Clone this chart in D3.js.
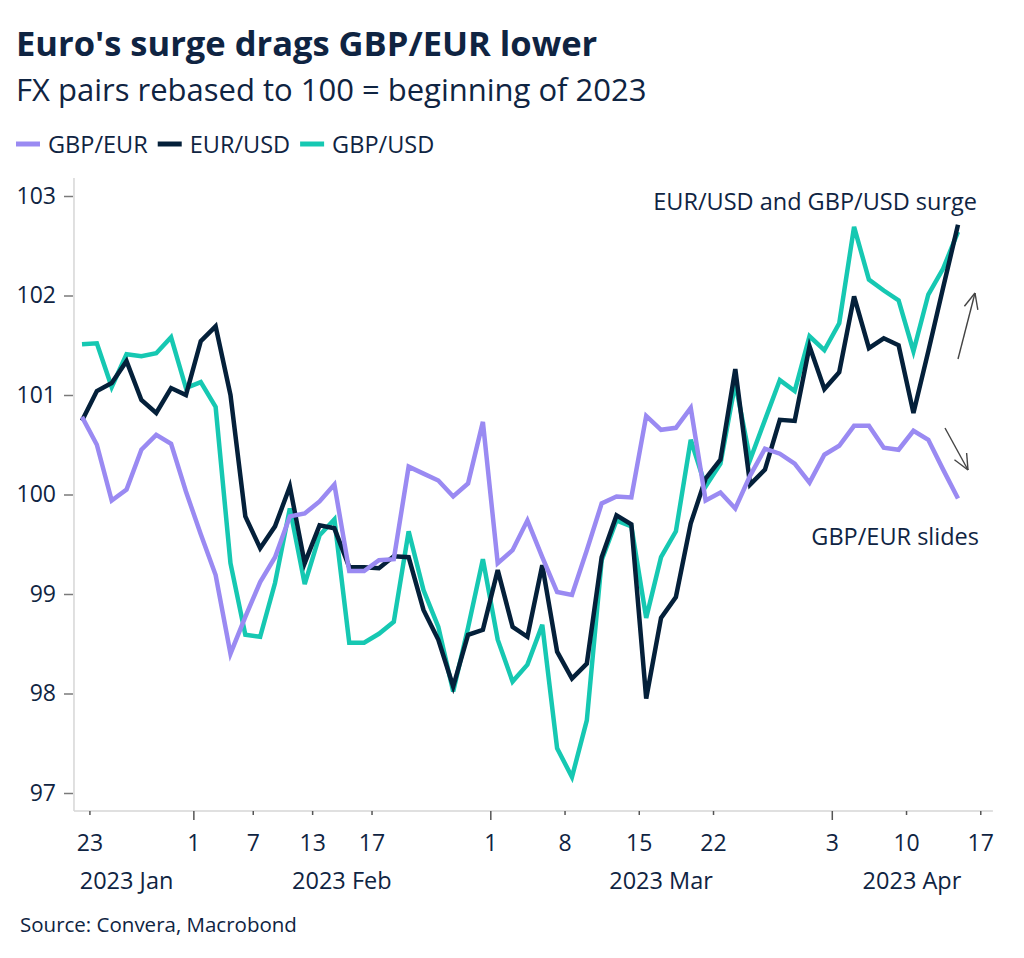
<!DOCTYPE html>
<html>
<head>
<meta charset="utf-8">
<script src="https://cdn.jsdelivr.net/npm/d3@7"></script>
<style>
  html, body { margin: 0; padding: 0; background: #ffffff; }
  svg { display: block; }
  text { font-family: "Open Sans", "Noto Sans", sans-serif; fill: #0f2442; }
</style>
</head>
<body>
<svg id="chart" width="1024" height="958"></svg>
<script>
// ---------- data ----------
const seriesNames = ["GBP/EUR", "EUR/USD", "GBP/USD"];
const seriesColors = ["#9a8af2", "#04203a", "#16c8b2"];

const gbpEur = [100.78, 100.50, 99.94, 100.05, 100.45, 100.60, 100.51, 100.03, 99.60, 99.19,
  98.40, 98.77, 99.12, 99.37, 99.78, 99.81, 99.93, 100.10, 99.23, 99.23,
  99.34, 99.35, 100.28, 100.21, 100.14, 99.98, 100.11, 100.73, 99.31, 99.44,
  99.74, 99.37, 99.02, 98.99, 99.44, 99.91, 99.98, 99.97, 100.79, 100.65,
  100.67, 100.87, 99.94, 100.02, 99.86, 100.19, 100.46, 100.41, 100.31, 100.12,
  100.40, 100.49, 100.69, 100.69, 100.47, 100.45, 100.64, 100.55, 100.25, 99.96];

const eurUsd = [100.74, 101.04, 101.12, 101.34, 100.95, 100.82, 101.07, 101.00, 101.54, 101.69,
  101.00, 99.78, 99.46, 99.68, 100.08, 99.31, 99.69, 99.66, 99.27, 99.27,
  99.26, 99.38, 99.37, 98.84, 98.54, 98.07, 98.59, 98.64, 99.24, 98.67,
  98.57, 99.29, 98.42, 98.15, 98.30, 99.37, 99.79, 99.70, 97.95, 98.76,
  98.97, 99.71, 100.16, 100.35, 101.26, 100.10, 100.25, 100.75, 100.74, 101.49,
  101.06, 101.23, 101.99, 101.47, 101.57, 101.50, 100.82, 101.44, 102.08, 102.71];

const gbpUsd = [101.51, 101.52, 101.08, 101.41, 101.39, 101.42, 101.58, 101.07, 101.13, 100.88,
  99.31, 98.59, 98.57, 99.11, 99.86, 99.10, 99.59, 99.75, 98.51, 98.51,
  98.60, 98.72, 99.63, 99.04, 98.67, 98.02, 98.66, 99.35, 98.54, 98.12,
  98.29, 98.69, 97.45, 97.16, 97.73, 99.34, 99.74, 99.68, 98.76, 99.37,
  99.63, 100.55, 100.08, 100.31, 101.12, 100.35, 100.75, 101.15, 101.04, 101.59,
  101.45, 101.72, 102.69, 102.16, 102.05, 101.95, 101.44, 102.01, 102.27, 102.64];

const firstDate = "2023-01-23";   // first trading day shown
const lastAxisDate = "2023-04-17"; // last tick on the axis

const tickDates = ["2023-01-23", "2023-02-01", "2023-02-07", "2023-02-13", "2023-02-17",
  "2023-03-01", "2023-03-08", "2023-03-15", "2023-03-22",
  "2023-04-03", "2023-04-10", "2023-04-17"];
const majorTickDates = ["2023-02-01", "2023-03-01", "2023-04-03"];
const monthLabels = ["2023 Jan", "2023 Feb", "2023 Mar", "2023 Apr"];

const yTicks = [97, 98, 99, 100, 101, 102, 103];

const titleText = "Euro's surge drags GBP/EUR lower";
const subtitleText = "FX pairs rebased to 100 = beginning of 2023";
const sourceText = "Source: Convera, Macrobond";
const noteUp = "EUR/USD and GBP/USD surge";
const noteDown = "GBP/EUR slides";

// ---------- trading day calendar (weekdays) ----------
const parse = d3.utcParse("%Y-%m-%d");
const fmt = d3.utcFormat("%Y-%m-%d");
const tradingDays = d3.utcDay.range(parse(firstDate), d3.utcDay.offset(parse(lastAxisDate), 1))
  .filter(d => d.getUTCDay() !== 0 && d.getUTCDay() !== 6)
  .map(fmt);
const idx = s => tradingDays.indexOf(s);

// ---------- layout ----------
const svg = d3.select("#chart");
const x = d3.scaleLinear().domain([0, 59]).range([82, 958]);
const y = d3.scaleLinear().domain([97, 103]).range([793, 196]);
const plotLeft = x(-0.54), plotRight = x(61.35);
const plotTop = 178, plotBottom = 811;

// titles
svg.append("text").attr("x", 16).attr("y", 56)
  .attr("font-size", 34.5).attr("font-weight", 700).text(titleText);
svg.append("text").attr("x", 16).attr("y", 101)
  .attr("font-size", 31).text(subtitleText);

// legend
let lx = 16;
seriesNames.forEach((name, i) => {
  const g = svg.append("g").attr("transform", `translate(${lx},144)`);
  g.append("line").attr("x1", 0).attr("x2", 24).attr("y1", 0).attr("y2", 0)
    .attr("stroke", seriesColors[i]).attr("stroke-width", 5);
  const t = g.append("text").attr("x", 32).attr("y", 8.5).attr("font-size", 23.5).text(name);
  lx += 32 + t.node().getComputedTextLength() + 10;
});

// axes lines
svg.append("line").attr("x1", plotLeft).attr("x2", plotLeft).attr("y1", plotTop).attr("y2", plotBottom)
  .attr("stroke", "#d6d6d6").attr("stroke-width", 1.5);
svg.append("line").attr("x1", plotLeft).attr("x2", plotRight).attr("y1", plotBottom).attr("y2", plotBottom)
  .attr("stroke", "#d6d6d6").attr("stroke-width", 1.5);

// y axis
const yAxis = d3.axisLeft(y).tickValues(yTicks).tickSize(9).tickPadding(8).tickFormat(d3.format("d"));
const gy = svg.append("g").attr("transform", `translate(${plotLeft - 1},0)`).call(yAxis);
gy.select(".domain").remove();
gy.selectAll(".tick line").attr("stroke", "#7a7a7a").attr("stroke-width", 1.5);
gy.selectAll(".tick text").attr("font-size", 23).attr("fill", "#0f2442")
  .attr("font-family", '"Open Sans", sans-serif');

// x axis ticks
const tickPos = tickDates.map(d => idx(d) + 0.5);
const xAxis = d3.axisBottom(x).tickValues(tickPos).tickSize(4)
  .tickFormat((d, i) => String(parse(tickDates[i]).getUTCDate()));
const gx = svg.append("g").attr("transform", `translate(0,${plotBottom})`).call(xAxis);
gx.select(".domain").remove();
gx.selectAll(".tick line")
  .attr("stroke", "#555")
  .attr("stroke-width", 1.5)
  .attr("y2", (d, i) => majorTickDates.includes(tickDates[i]) ? 9 : 4);
gx.selectAll(".tick text").attr("font-size", 23).attr("fill", "#0f2442")
  .attr("font-family", '"Open Sans", sans-serif').attr("dy", 0).attr("y", 40);

// month labels centred between month boundaries (tick positions)
const monthStarts = [-1.5].concat(majorTickDates.map(d => idx(d) + 0.5));
const monthEnds = majorTickDates.map(d => idx(d) + 0.5).concat([61.3]);
monthLabels.forEach((m, i) => {
  svg.append("text").attr("x", x((monthStarts[i] + monthEnds[i]) / 2)).attr("y", 889)
    .attr("text-anchor", "middle").attr("font-size", 23.5).text(m);
});

// lines
const lineGen = d3.line().x((d, i) => x(i)).y(d => y(d)).curve(d3.curveLinear);
const drawOrder = [[gbpUsd, 2], [eurUsd, 1], [gbpEur, 0]];
drawOrder.forEach(([vals, ci]) => {
  svg.append("path").datum(vals).attr("d", lineGen)
    .attr("fill", "none").attr("stroke", seriesColors[ci])
    .attr("stroke-width", 4.5).attr("stroke-linejoin", "miter").attr("stroke-linecap", "butt");
});

// annotations
svg.append("text").attr("x", 977).attr("y", 210).attr("text-anchor", "end")
  .attr("font-size", 23.5).text(noteUp);
svg.append("text").attr("x", 979).attr("y", 545).attr("text-anchor", "end")
  .attr("font-size", 23.5).text(noteDown);

const arrow = (x1, y1, x2, y2) => {
  const g = svg.append("g").attr("stroke", "#444").attr("stroke-width", 1.4).attr("fill", "none");
  g.append("line").attr("x1", x1).attr("y1", y1).attr("x2", x2).attr("y2", y2);
  const ang = Math.atan2(y2 - y1, x2 - x1);
  const L = 17, spread = 0.42;
  [ang + Math.PI - spread, ang + Math.PI + spread].forEach(a => {
    g.append("line").attr("x1", x2).attr("y1", y2)
      .attr("x2", x2 + L * Math.cos(a)).attr("y2", y2 + L * Math.sin(a));
  });
};
arrow(958, 359, 975, 293);
arrow(945, 428, 968, 470);

// source
svg.append("text").attr("x", 20).attr("y", 932).attr("font-size", 20.5).text(sourceText);
</script>
</body>
</html>
